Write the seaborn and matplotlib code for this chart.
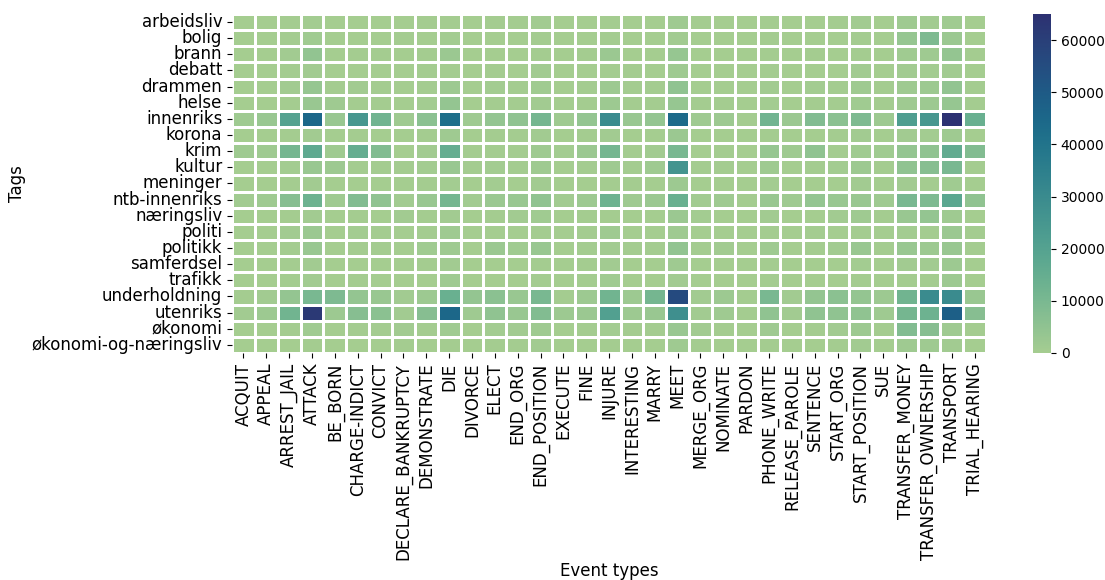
import matplotlib
matplotlib.use("Agg")
import matplotlib.pyplot as plt
import numpy as np
import pandas as pd
import seaborn as sns

event_types = ["ACQUIT", "APPEAL", "ARREST_JAIL", "ATTACK", "BE_BORN", "CHARGE-INDICT",
               "CONVICT", "DECLARE_BANKRUPTCY", "DEMONSTRATE", "DIE", "DIVORCE", "ELECT",
               "END_ORG", "END_POSITION", "EXECUTE", "FINE", "INJURE", "INTERESTING",
               "MARRY", "MEET", "MERGE_ORG", "NOMINATE", "PARDON", "PHONE_WRITE",
               "RELEASE_PAROLE", "SENTENCE", "START_ORG", "START_POSITION", "SUE",
               "TRANSFER_MONEY", "TRANSFER_OWNERSHIP", "TRANSPORT", "TRIAL_HEARING"]

tags = ["arbeidsliv", "bolig", "brann", "debatt", "drammen", "helse", "innenriks",
        "korona", "krim", "kultur", "meninger", "ntb-innenriks", "næringsliv", "politi",
        "politikk", "samferdsel", "trafikk", "underholdning", "utenriks", "økonomi",
        "økonomi-og-næringsliv"]

# Event counts per tag, one list per tag in the order of event_types
arbeidsliv = [100, 50, 300, 600, 100, 200, 100, 200, 500, 300, 50, 500, 400, 800, 20, 100, 300,
              200, 100, 1500, 300, 200, 10, 300, 50, 100, 300, 1000, 200, 1500, 800, 1200, 200]
bolig = [50, 30, 300, 1200, 100, 200, 100, 300, 200, 600, 50, 200, 200, 500, 10, 200, 500,
         200, 100, 1000, 200, 100, 10, 300, 30, 100, 200, 500, 100, 3500, 9000, 2500, 100]
brann = [50, 50, 800, 4500, 200, 300, 300, 100, 300, 2500, 50, 200, 200, 400, 30, 300, 2500,
         200, 200, 3500, 100, 100, 10, 500, 50, 400, 200, 500, 200, 1200, 1500, 4000, 300]
debatt = [100, 50, 300, 800, 100, 200, 100, 50, 300, 500, 50, 500, 200, 800, 30, 100, 300,
          300, 100, 1500, 100, 200, 10, 500, 50, 100, 200, 800, 100, 800, 600, 800, 100]
drammen = [100, 100, 1000, 3500, 300, 800, 500, 200, 400, 2000, 100, 600, 400, 1200, 30, 400, 2000,
           400, 400, 5000, 200, 200, 10, 800, 100, 600, 400, 1500, 300, 1500, 2000, 4500, 500]
helse = [100, 100, 500, 3000, 1500, 500, 400, 200, 600, 4000, 100, 300, 300, 1000, 30, 300, 2000,
         300, 500, 3500, 300, 300, 10, 600, 100, 400, 300, 1200, 300, 1500, 1800, 3500, 400]
innenriks = [1500, 3000, 20000, 45000, 3000, 25000, 12000, 1500, 6000, 42000, 1500, 4000, 5000,
             11000, 1500, 4000, 30000, 3000, 4000, 44000, 1500, 2000, 500, 12000, 2500, 8000,
             6000, 9000, 2000, 22000, 25000, 65000, 14000]
korona = [50, 50, 400, 800, 200, 300, 200, 100, 300, 1500, 50, 300, 300, 800, 20, 300, 800,
          200, 200, 2500, 200, 200, 10, 500, 50, 200, 300, 800, 200, 800, 600, 1500, 200]
krim = [1500, 1500, 11000, 17000, 1500, 15000, 8000, 200, 800, 15000, 300, 400, 400, 1500, 600,
        2500, 11000, 300, 800, 10000, 200, 300, 200, 3500, 1500, 5000, 300, 1200, 1200, 4000,
        5000, 16000, 8000]
kultur = [100, 100, 600, 3000, 2000, 400, 300, 300, 600, 3000, 300, 600, 400, 1500, 30, 300, 1500,
          500, 1500, 26000, 300, 500, 10, 1500, 50, 300, 700, 2000, 300, 5000, 7000, 10000, 500]
meninger = [100, 50, 300, 1000, 100, 200, 200, 50, 400, 700, 50, 600, 200, 1000, 30, 100, 500,
            300, 100, 2000, 100, 200, 10, 600, 50, 200, 200, 800, 100, 800, 500, 1200, 200]
ntb_innenriks = [1000, 1500, 7000, 13000, 1500, 8000, 5000, 1000, 3000, 11000, 1000, 2500, 3000,
                 5000, 1000, 2000, 13000, 1500, 2500, 14000, 1000, 1500, 300, 3000, 1500, 4000,
                 3000, 3000, 1500, 10000, 9000, 18000, 5000]
naeringsliv = [100, 50, 300, 800, 100, 300, 200, 1000, 300, 800, 50, 400, 800, 1200, 20, 400, 500,
               200, 200, 2500, 600, 200, 10, 800, 50, 200, 800, 1500, 400, 3000, 4000, 1500, 200]
politi = [100, 100, 800, 2500, 100, 600, 400, 50, 500, 1500, 50, 100, 100, 300, 30, 400, 1500,
          100, 100, 1500, 50, 50, 10, 500, 100, 400, 100, 300, 100, 600, 500, 2500, 400]
politikk = [200, 100, 500, 3000, 200, 500, 400, 200, 1200, 1500, 100, 2500, 1200, 3000, 30, 300,
            800, 400, 300, 4500, 500, 1000, 50, 1500, 100, 300, 800, 3000, 400, 3000, 2000, 3000, 400]
samferdsel = [50, 50, 300, 800, 100, 200, 200, 200, 300, 1000, 30, 200, 200, 500, 20, 300, 800,
              200, 100, 1500, 200, 100, 10, 500, 50, 200, 200, 600, 200, 1000, 1000, 2000, 200]
trafikk = [50, 50, 400, 1000, 50, 300, 200, 50, 200, 1500, 30, 100, 100, 300, 20, 300, 1200,
           100, 100, 1000, 50, 50, 10, 300, 50, 200, 100, 300, 100, 400, 500, 2000, 200]
underholdning = [500, 800, 4000, 10000, 9000, 4000, 3000, 1000, 2000, 14000, 4000, 6000, 3000,
                 10000, 500, 2000, 12000, 2000, 11000, 56000, 1000, 2000, 300, 10000, 800, 4000,
                 6000, 4000, 2000, 12000, 30000, 30000, 3000]
utenriks = [1000, 2000, 12000, 62000, 2000, 7000, 6000, 800, 7000, 45000, 1500, 5000, 3000, 8000,
            2000, 2500, 21000, 2000, 3000, 28000, 1000, 1500, 300, 5000, 1000, 5000, 5000, 5000,
            1500, 11000, 13000, 48000, 7000]
okonomi = [100, 100, 400, 1200, 200, 400, 300, 1000, 300, 1200, 100, 600, 800, 1500, 30, 500, 700,
           300, 300, 3000, 1000, 500, 10, 1500, 100, 300, 1000, 2000, 500, 8000, 7000, 1500, 300]
okonomi_naeringsliv = [50, 30, 200, 500, 50, 200, 100, 500, 200, 500, 30, 300, 500, 800, 10, 200,
                       300, 100, 100, 1500, 400, 200, 10, 500, 30, 100, 500, 800, 200, 1500, 1500,
                       800, 100]

rows = [arbeidsliv, bolig, brann, debatt, drammen, helse, innenriks, korona, krim, kultur,
        meninger, ntb_innenriks, naeringsliv, politi, politikk, samferdsel, trafikk,
        underholdning, utenriks, okonomi, okonomi_naeringsliv]

df = pd.DataFrame(rows, index=tags, columns=event_types)
df.index.name = "Tags"
df.columns.name = "Event types"

fig = plt.figure(figsize=(11.05, 5.8), dpi=100)
ax = fig.add_axes([0.2100, 0.3914, 0.6824, 0.5845])
cax = fig.add_axes([0.9348, 0.3914, 0.0163, 0.5845])

sns.heatmap(df, cmap="crest", vmin=0, linewidths=1, linecolor="white", ax=ax, cbar_ax=cax)

ax.set_xticks(np.arange(len(event_types)) + 0.5)
ax.set_xticklabels(event_types, rotation=90, fontsize=12)
ax.set_yticks(np.arange(len(tags)) + 0.5)
ax.set_yticklabels(tags, rotation=0, fontsize=12)
ax.set_xlabel("Event types", fontsize=12, labelpad=1)
ax.set_ylabel("Tags", fontsize=12)
cax.tick_params(labelsize=10)

fig.savefig("out.png", dpi=100)
